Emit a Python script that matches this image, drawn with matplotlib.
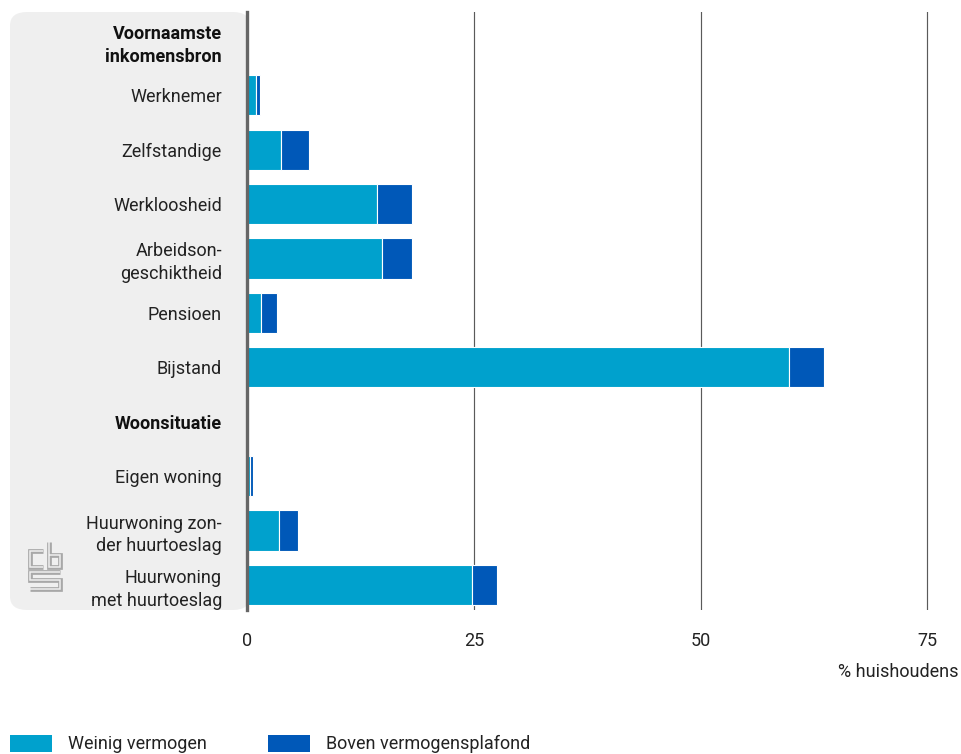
import matplotlib
matplotlib.use("Agg")
import matplotlib.pyplot as plt
from matplotlib.patches import FancyBboxPatch, Rectangle
from matplotlib.lines import Line2D

plt.rcParams['font.family'] = ['Roboto', 'DejaVu Sans']

# ---- data ----
rows = ["Voornaamste\ninkomensbron", "Werknemer", "Zelfstandige", "Werkloosheid",
        "Arbeidson-\ngeschiktheid", "Pensioen", "Bijstand", "Woonsituatie",
        "Eigen woning", "Huurwoning zon-\nder huurtoeslag", "Huurwoning\nmet huurtoeslag"]
is_header = [True, False, False, False, False, False, False, True, False, False, False]
weinig = [None, 1.0, 3.7, 14.3, 14.9, 1.5, 59.7, None, 0.3, 3.5, 24.8]
boven = [None, 0.4, 3.1, 3.9, 3.3, 1.8, 3.9, None, 0.4, 2.1, 2.8]
xticks = [0, 25, 50, 75]
series_names = ["Weinig vermogen", "Boven vermogensplafond"]
c_light = "#00a1cd"
c_dark = "#0058b8"
txt = "#222222"
FS = 13

W, H = 961, 754
fig = plt.figure(figsize=(W / 100, H / 100), dpi=100)

# grey panel behind labels
panel = FancyBboxPatch((10 / W, (H - 610) / H), (250 - 10) / W, (610 - 12) / H,
                       boxstyle="round,pad=0,rounding_size=0.018",
                       transform=fig.transFigure, facecolor="#efefef",
                       edgecolor="none", zorder=0)
fig.patches.append(panel)

ax = fig.add_axes([247 / W, (H - 610) / H, (961 - 247) / W, (610 - 12) / H])
ax.set_facecolor("white")
ax.set_zorder(1)

ys = list(range(len(rows)))
for y, a, b, h in zip(ys, weinig, boven, is_header):
    if h:
        continue
    ax.barh(y, a, height=0.74, color=c_light, edgecolor="white", linewidth=0.8, zorder=3)
    ax.barh(y, b, left=a, height=0.74, color=c_dark, edgecolor="white", linewidth=0.8, zorder=3)

ax.set_xlim(0, 78.7)
ax.set_ylim(10.46, -0.53)

for x in xticks[1:]:
    ax.axvline(x, color="#5a5a5a", linewidth=0.85, zorder=1)

for s in ["top", "right", "bottom"]:
    ax.spines[s].set_visible(False)
ax.spines["left"].set_color("#666666")
ax.spines["left"].set_linewidth(2.4)
ax.spines["left"].set_zorder(5)

ax.set_xticks(xticks)
ax.set_xticklabels([str(t) for t in xticks])
ax.tick_params(axis="x", length=0, pad=16, labelsize=FS, labelcolor=txt)
ax.set_yticks(ys)
ax.set_yticklabels(rows)
ax.tick_params(axis="y", length=0, pad=18, labelsize=FS, labelcolor=txt)
for lbl, h in zip(ax.get_yticklabels(), is_header):
    lbl.set_multialignment("right")
    lbl.set_linespacing(1.35)
    if h:
        lbl.set_fontweight("bold")
        lbl.set_color("#111111")

fig.text(958 / W, 1 - 672 / H, "% huishoudens", ha="right", va="center",
         fontsize=FS, color=txt)

# legend
for (x0, name, col) in [(10, series_names[0], c_light), (268, series_names[1], c_dark)]:
    fig.patches.append(Rectangle((x0 / W, 1 - 752 / H), 42 / W, 17 / H,
                                 transform=fig.transFigure, facecolor=col, edgecolor="none"))
    fig.text((x0 + 58) / W, 1 - 744 / H, name, ha="left", va="center",
             fontsize=FS, color=txt)

# simple cbs logo approximation (double outline)
def L(xs, yv):
    for lw, col in [(3.4, "#a8a8a8"), (1.1, "#efefef")]:
        fig.lines.append(Line2D([x / W for x in xs], [1 - y / H for y in yv],
                                transform=fig.transFigure, color=col, linewidth=lw,
                                solid_joinstyle="miter", solid_capstyle="butt"))
L([43, 30.5, 30.5, 43], [551, 551, 566.5, 566.5])          # c
L([48.5, 48.5, 60, 60, 48.5], [542, 566.5, 566.5, 555, 555])  # b
L([60, 30.5, 30.5, 60, 60, 30.5], [571.5, 571.5, 580, 580, 588.5, 588.5])  # s

fig.savefig("out.png", dpi=100)
